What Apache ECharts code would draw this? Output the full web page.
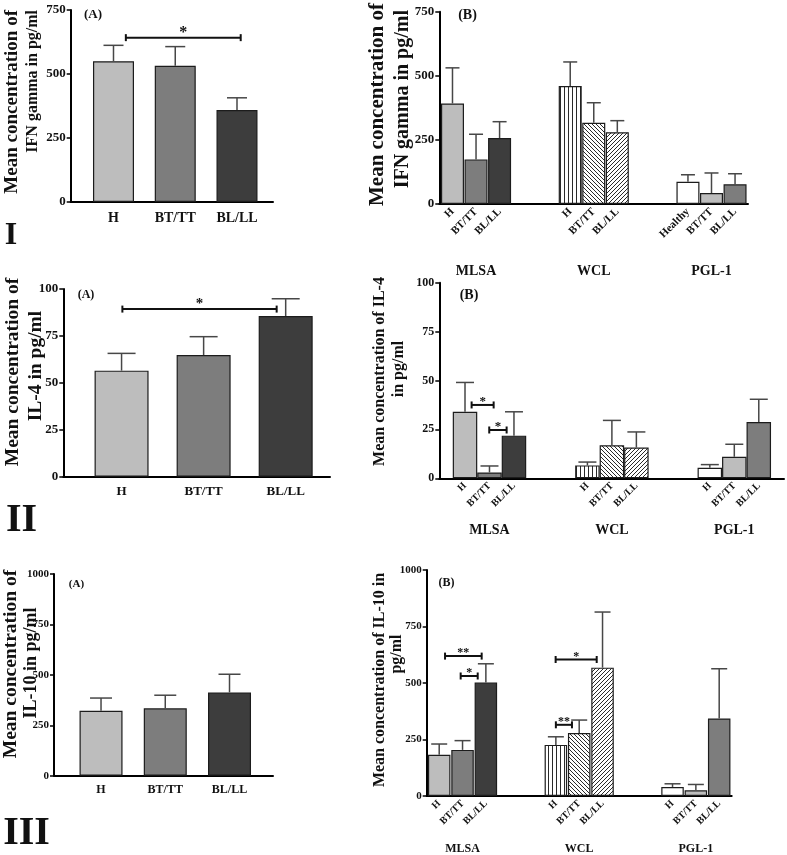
<!DOCTYPE html>
<html><head><meta charset="utf-8">
<script src="https://cdn.jsdelivr.net/npm/echarts@6/dist/echarts.min.js"></script>
<style>html,body{margin:0;padding:0;background:#fff}#c{width:787px;height:855px}</style>
</head><body><div id="c"></div>
<script>
// ---------------- DATA ----------------
const groupsA = ['H', 'BT/TT', 'BL/LL'];
const antigens = ['MLSA', 'WCL', 'PGL-1'];
const subLabelsIFN = ['H', 'BT/TT', 'BL/LL', 'H', 'BT/TT', 'BL/LL', 'Healthy', 'BT/TT', 'BL/LL'];
const subLabels = ['H', 'BT/TT', 'BL/LL', 'H', 'BT/TT', 'BL/LL', 'H', 'BT/TT', 'BL/LL'];

const ifnA = [550, 532, 359];
const ifnAErr = [62, 75, 48];
const ifnB = [392, 174, 257, 460, 317, 280, 87, 43, 77];
const ifnBErr = [139, 98, 64, 94, 78, 45, 27, 78, 41];

const il4A = [56.5, 64.8, 85.6];
const il4AErr = [9.2, 9.8, 9.2];
const il4B = [34, 3, 21.8, 6.6, 16.9, 15.7, 5.4, 11, 28.8];
const il4BErr = [15, 3.3, 12.2, 1.7, 12.7, 8, 1.6, 6.4, 11.6];

const il10A = [322, 334, 413];
const il10AErr = [63, 65, 90];
const il10B = [182, 204, 502, 226, 279, 568, 40, 25, 343];
const il10BErr = [48, 41, 83, 36, 57, 246, 14, 26, 220];

// significance brackets: [from (bar slot), to (bar slot), level, mark]
const sigIfnA = [[1.2, 3.06, 642, '*']];
const sigIl4A = [[1.01, 2.89, 89.3, '*']];
const sigIl4B = [[0.27, 1.17, 37.5, '*'], [0.99, 1.70, 24.7, '*']];
const sigIl10B = [[0.25, 1.82, 619, '**'], [0.92, 1.65, 531, '*'], [4.99, 6.75, 604, '*'], [5.0, 5.69, 315, '**']];

// ---------------- STYLE ----------------
const SERIF = '"Liberation Serif", "DejaVu Serif", serif';
const LIGHT = '#bdbdbd', MID = '#7d7d7d', DARK = '#3d3d3d', WHITE = '#ffffff';

function pattern(kind) {
  const s = 4, c = document.createElement('canvas');
  c.width = s; c.height = s;
  const g = c.getContext('2d');
  g.fillStyle = '#fff'; g.fillRect(0, 0, s, s);
  g.strokeStyle = '#2a2a2a'; g.fillStyle = '#2a2a2a'; g.lineWidth = 1;
  if (kind === 'v') {
    g.fillRect(0, 0, 1, s);
  } else {
    g.beginPath();
    if (kind === 'b') {
      g.moveTo(-1, -1); g.lineTo(s + 1, s + 1);
      g.moveTo(-1, s - 1); g.lineTo(1, s + 1);
      g.moveTo(s - 1, -1); g.lineTo(s + 1, 1);
    } else {
      g.moveTo(-1, s + 1); g.lineTo(s + 1, -1);
      g.moveTo(-1, 1); g.lineTo(1, -1);
      g.moveTo(s - 1, s + 1); g.lineTo(s + 1, s - 1);
    }
    g.stroke();
  }
  return { image: c, repeat: 'repeat' };
}
const VSTR = pattern('v'), BACK = pattern('b'), FWD = pattern('f');
const fillsA = [LIGHT, MID, DARK];
const fillsB = [[LIGHT, MID, DARK], [VSTR, BACK, FWD], [WHITE, LIGHT, MID]];

const panels = [
  { kind: 'A', mean: ifnA, err: ifnAErr, labels: groupsA, sig: sigIfnA, yMax: 750, yInt: 250,
    box: { l: 70.7, r: 273, t: 10, b: 202 }, xr: [0.307, 3.583], barW: 41, cap: 20,
    yFont: 13, xFont: 14, xMargin: 9, sigFont: 16 },
  { kind: 'B', mean: ifnB, err: ifnBErr, labels: subLabelsIFN, sig: [], yMax: 750, yInt: 250,
    box: { l: 439.3, r: 748, t: 11.7, b: 204 }, xr: [-0.56, 12.55], barW: 23, cap: 14,
    yFont: 13, xFont: 11, xMargin: 6, grpOffset: 60, grpFont: 14, sigFont: 14 },
  { kind: 'A', mean: il4A, err: il4AErr, labels: groupsA, sig: sigIl4A, yMax: 100, yInt: 25,
    box: { l: 63.3, r: 330, t: 289, b: 476.7 }, xr: [0.29, 3.54], barW: 54, cap: 28,
    yFont: 13, xFont: 13, xMargin: 8, sigFont: 15 },
  { kind: 'B', mean: il4B, err: il4BErr, labels: subLabels, sig: sigIl4B, yMax: 100, yInt: 25,
    box: { l: 439.3, r: 784, t: 282.7, b: 478.3 }, xr: [-1.05, 13.03], barW: 24.5, cap: 18,
    yFont: 12, xFont: 10, xMargin: 6, grpOffset: 45, grpFont: 14, sigFont: 13 },
  { kind: 'A', mean: il10A, err: il10AErr, labels: groupsA, sig: [], yMax: 1000, yInt: 250,
    box: { l: 54, r: 273, t: 574, b: 775.7 }, xr: [0.268, 3.677], barW: 43, cap: 22,
    yFont: 11, xFont: 12, xMargin: 8, sigFont: 13 },
  { kind: 'B', mean: il10B, err: il10BErr, labels: subLabels, sig: sigIl10B, yMax: 1000, yInt: 250,
    box: { l: 426.7, r: 731.7, t: 570, b: 797.3 }, xr: [-0.536, 12.536], barW: 22.5, cap: 16,
    yFont: 11, xFont: 10, xMargin: 6, grpOffset: 47, grpFont: 12, sigFont: 12 }
];

function slotOf(kind, k) { return kind === 'A' ? k + 1 : Math.floor(k / 3) * 5 + (k % 3); }

const grid = [], xAxis = [], yAxis = [], series = [];
panels.forEach((p, gi) => {
  grid.push({ left: p.box.l, top: p.box.t, width: p.box.r - p.box.l, height: p.box.b - p.box.t, containLabel: false });
  const slots = p.mean.map((_, k) => slotOf(p.kind, k));
  const xi = xAxis.length;
  xAxis.push({
    type: 'value', gridIndex: gi, min: p.xr[0], max: p.xr[1], position: 'bottom',
    splitLine: { show: false },
    axisLine: { onZero: false, lineStyle: { color: '#000', width: 2 } },
    axisTick: { show: false },
    axisLabel: {
      customValues: slots, interval: 0, margin: p.xMargin,
      rotate: p.kind === 'B' ? 45 : 0,
      fontFamily: SERIF, fontWeight: 'bold', fontSize: p.xFont, color: '#111',
      formatter: v => { const k = slots.indexOf(Math.round(v)); return k >= 0 ? p.labels[k] : ''; }
    }
  });
  if (p.kind === 'B') {
    const centers = [1, 6, 11];
    xAxis.push({
      type: 'value', gridIndex: gi, min: p.xr[0], max: p.xr[1], position: 'bottom', offset: p.grpOffset,
      splitLine: { show: false }, axisLine: { show: false }, axisTick: { show: false },
      axisLabel: {
        customValues: centers, margin: 0,
        fontFamily: SERIF, fontWeight: 'bold', fontSize: p.grpFont, color: '#111',
        formatter: v => { const k = centers.indexOf(Math.round(v)); return k >= 0 ? antigens[k] : ''; }
      }
    });
  }
  yAxis.push({
    type: 'value', gridIndex: gi, min: 0, max: p.yMax, interval: p.yInt,
    splitLine: { show: false },
    axisLine: { onZero: false, lineStyle: { color: '#000', width: 2 } },
    axisTick: { length: 4, lineStyle: { color: '#000', width: 1.5 } },
    axisLabel: { margin: 5, fontFamily: SERIF, fontWeight: 'bold', fontSize: p.yFont, color: '#111',
                 formatter: v => String(v) }
  });
  series.push({
    type: 'bar', xAxisIndex: xi, yAxisIndex: gi, barWidth: p.barW, silent: true,
    data: p.mean.map((v, k) => ({
      value: [slots[k], v],
      itemStyle: {
        color: p.kind === 'A' ? fillsA[k] : fillsB[Math.floor(k / 3)][k % 3],
        borderColor: '#1c1c1c', borderWidth: 1.2
      }
    }))
  });
  series.push({
    type: 'custom', xAxisIndex: xi, yAxisIndex: gi, silent: true, z: 3,
    encode: { x: 0, y: 1 },
    data: p.mean.map((v, k) => [slots[k], v, p.err[k]]),
    renderItem: (params, api) => {
      const x = api.value(0), m = api.value(1), e = api.value(2);
      const a = api.coord([x, m]), b = api.coord([x, m + e]);
      const st = { stroke: '#474747', lineWidth: 1.5 };
      return { type: 'group', children: [
        { type: 'line', shape: { x1: a[0], y1: a[1], x2: b[0], y2: b[1] }, style: st },
        { type: 'line', shape: { x1: b[0] - p.cap / 2, y1: b[1], x2: b[0] + p.cap / 2, y2: b[1] }, style: st }
      ] };
    }
  });
  if (p.sig.length) {
    series.push({
      type: 'custom', xAxisIndex: xi, yAxisIndex: gi, silent: true, z: 4,
      encode: { x: [0, 1], y: 2 },
      data: p.sig.map(s => [s[0], s[1], s[2]]),
      renderItem: (params, api) => {
        const a = api.coord([api.value(0), api.value(2)]);
        const b = api.coord([api.value(1), api.value(2)]);
        const st = { stroke: '#111', lineWidth: 2 };
        return { type: 'group', children: [
          { type: 'line', shape: { x1: a[0], y1: a[1], x2: b[0], y2: b[1] }, style: st },
          { type: 'line', shape: { x1: a[0], y1: a[1] - 3.5, x2: a[0], y2: a[1] + 3.5 }, style: st },
          { type: 'line', shape: { x1: b[0], y1: b[1] - 3.5, x2: b[0], y2: b[1] + 3.5 }, style: st },
          { type: 'text', x: (a[0] + b[0]) / 2, y: a[1] + 3,
            style: { text: p.sig[params.dataIndex][3], font: 'bold ' + p.sigFont + 'px ' + SERIF,
                     fill: '#111', textAlign: 'center', textVerticalAlign: 'bottom' } }
        ] };
      }
    });
  }
});

function vText(text, x, y, size, align) {
  return { type: 'text', x: x, y: y, rotation: Math.PI / 2, silent: true,
    style: { text: text, font: 'bold ' + size + 'px ' + SERIF, fill: '#111',
             textAlign: align, textVerticalAlign: 'middle' } };
}
function hText(text, x, y, size) {
  return { type: 'text', x: x, y: y, silent: true,
    style: { text: text, font: 'bold ' + size + 'px ' + SERIF, fill: '#111',
             textAlign: 'center', textVerticalAlign: 'middle' } };
}

const graphic = [
  // axis titles
  vText('Mean concentration of', 12, 10, 19, 'right'),
  vText('IFN gamma in pg/ml', 33, 10, 16, 'right'),
  vText('Mean concentration of', 378, 3, 21, 'right'),
  vText('IFN gamma in pg/ml', 403, 10, 20, 'right'),
  vText('Mean concentration of', 12.5, 372, 19.5, 'center'),
  vText('IL-4 in pg/ml', 35.5, 366, 19.5, 'center'),
  vText('Mean concentration of IL-4', 380, 371.5, 16, 'center'),
  vText('in pg/ml', 399, 369, 16, 'center'),
  vText('Mean concentration of', 11, 664, 19.5, 'center'),
  vText('IL-10 in pg/ml', 31, 663, 18, 'center'),
  vText('Mean concentration of IL-10 in', 380, 680, 16, 'center'),
  vText('pg/ml', 397, 654, 16, 'center'),
  // panel tags
  hText('(A)', 93, 15, 13), hText('(B)', 467.5, 15, 14),
  hText('(A)', 86, 295, 12), hText('(B)', 469, 295, 14),
  hText('(A)', 76.5, 584, 11), hText('(B)', 446.5, 583, 12),
  // roman numerals
  hText('I', 11, 236, 32), hText('II', 21.5, 521, 40), hText('III', 26.5, 834, 40)
];

const chart = echarts.init(document.getElementById('c'), null, { renderer: 'canvas' });
chart.setOption({ animation: false, backgroundColor: '#fff', grid, xAxis, yAxis, series, graphic });
</script></body></html>
